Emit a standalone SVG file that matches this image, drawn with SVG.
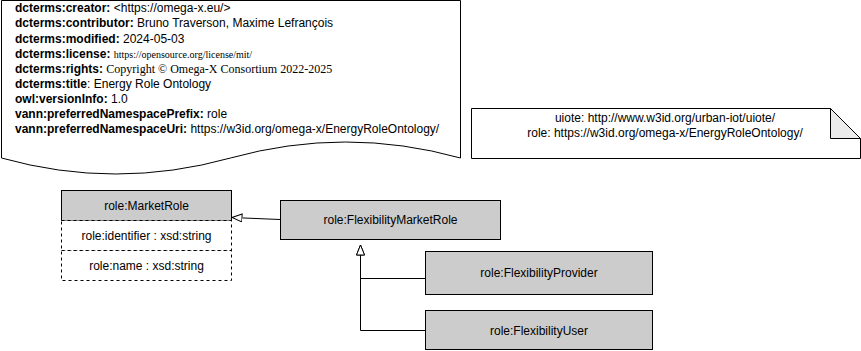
<svg xmlns="http://www.w3.org/2000/svg" width="861" height="351" viewBox="0 0 861 351">
  <style>
    .sans { font-family: "Liberation Sans", Arial, Helvetica, sans-serif; font-size: 12px; fill: #000; }
    .serif { font-family: "Liberation Serif", "Times New Roman", serif; font-size: 12px; }
    .tiny { font-size: 10px; }
    .key { font-weight: bold; }
    .mid { text-anchor: middle; }
    .cls { fill: #cccccc; stroke: #000; stroke-width: 1; }
    .attr { fill: #ffffff; stroke: #000; stroke-width: 1; stroke-dasharray: 3 3; }
    .shape { fill: #ffffff; stroke: #000; stroke-width: 1; }
    .edge { fill: none; stroke: #000; stroke-width: 1; }
  </style>
  <defs>
    <marker id="inherit" viewBox="0 0 11 9" refX="10.5" refY="4.5" markerWidth="11" markerHeight="9" markerUnits="userSpaceOnUse" orient="auto">
      <path d="M0.5,0.5 L10.5,4.5 L0.5,8.5 Z" fill="#ffffff" stroke="#000" stroke-width="1"/>
    </marker>
  </defs>

  <!-- ontology metadata document -->
  <g id="metadata">
    <path class="shape" d="M1.5,0.5 L460.5,0.5 L460.5,158 Q345.5,126 230.5,158 Q115.5,190 1.5,158 Z"/>
    <text class="sans" x="15" y="12"><tspan class="key">dcterms:creator:</tspan> &lt;https://omega-x.eu/&gt;</text>
    <text class="sans" x="15" y="27"><tspan class="key">dcterms:contributor:</tspan> Bruno Traverson, Maxime Lefrançois</text>
    <text class="sans" x="15" y="42.5"><tspan class="key">dcterms:modified:</tspan> 2024-05-03</text>
    <text class="sans" x="15" y="57.5"><tspan class="key">dcterms:license:</tspan> <tspan class="serif tiny">https://opensource.org/license/mit/</tspan></text>
    <text class="sans" x="15" y="72.5"><tspan class="key">dcterms:rights:</tspan> <tspan class="serif">Copyright © Omega-X Consortium 2022-2025</tspan></text>
    <text class="sans" x="15" y="88"><tspan class="key">dcterms:title</tspan>: Energy Role Ontology</text>
    <text class="sans" x="15" y="103"><tspan class="key">owl:versionInfo:</tspan> 1.0</text>
    <text class="sans" x="15" y="118"><tspan class="key">vann:preferredNamespacePrefix:</tspan> role</text>
    <text class="sans" x="15" y="132.5"><tspan class="key">vann:preferredNamespaceUri:</tspan> https://w3id.org/omega-x/EnergyRoleOntology/</text>
  </g>

  <!-- namespace prefixes note -->
  <g id="namespaces">
    <path class="shape" d="M471.5,108.5 L830.5,108.5 L860.5,138.5 L860.5,158.5 L471.5,158.5 Z"/>
    <path d="M830.5,108.5 L830.5,138.5 L860.5,138.5 Z" fill="#ebebeb" stroke="#000" stroke-width="1"/>
    <text class="sans mid" x="665" y="122">uiote: http://www.w3id.org/urban-iot/uiote/</text>
    <text class="sans mid" x="665" y="137">role: https://w3id.org/omega-x/EnergyRoleOntology/</text>
  </g>

  <!-- classes -->
  <g id="MarketRole">
    <rect class="cls" x="61.5" y="190.5" width="170" height="30"/>
    <rect class="attr" x="61.5" y="220.5" width="170" height="30"/>
    <rect class="attr" x="61.5" y="250.5" width="170" height="30"/>
    <text class="sans mid" x="146.5" y="209.5">role:MarketRole</text>
    <text class="sans mid" x="146.5" y="239.5">role:identifier : xsd:string</text>
    <text class="sans mid" x="146.5" y="269.5">role:name : xsd:string</text>
  </g>

  <g id="FlexibilityMarketRole">
    <rect class="cls" x="280.5" y="200.5" width="220" height="39"/>
    <text class="sans mid" x="390.5" y="224">role:FlexibilityMarketRole</text>
  </g>

  <g id="FlexibilityProvider">
    <rect class="cls" x="425.5" y="251.5" width="227" height="43"/>
    <text class="sans mid" x="539" y="277">role:FlexibilityProvider</text>
  </g>

  <g id="FlexibilityUser">
    <rect class="cls" x="425.5" y="310.5" width="227" height="39"/>
    <text class="sans mid" x="539" y="334.5">role:FlexibilityUser</text>
  </g>

  <!-- subclass connectors -->
  <g id="connectors">
    <path class="edge" d="M280,219.5 L232,217.5" marker-end="url(#inherit)"/>
    <path class="edge" d="M425,278.5 L360.5,278.5 L360.5,245" marker-end="url(#inherit)"/>
    <path class="edge" d="M425,330.5 L360.5,330.5 L360.5,245" marker-end="url(#inherit)"/>
  </g>
</svg>
